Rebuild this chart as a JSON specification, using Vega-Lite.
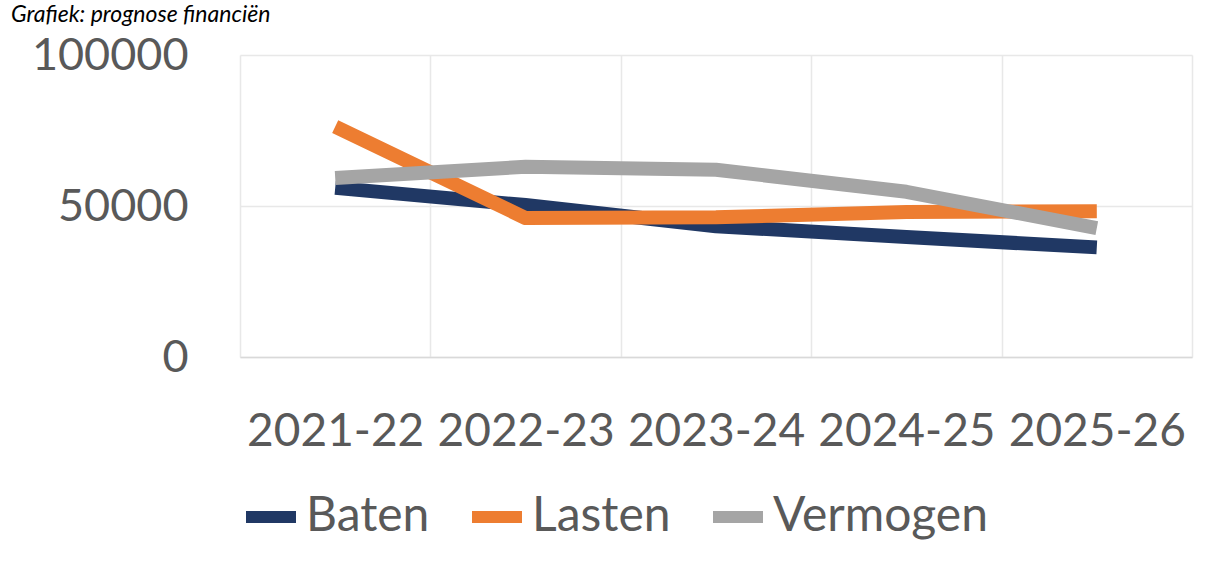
{
  "$schema": "https://vega.github.io/schema/vega-lite/v6.json",
  "width": 952,
  "height": 302,
  "autosize": {"type": "none"},
  "padding": {"left": 240, "top": 55, "right": 17, "bottom": 207},
  "background": "white",
  "title": {
    "text": "Grafiek: prognose financiën",
    "orient": "top",
    "anchor": "start",
    "frame": "group",
    "font": "Lato",
    "fontStyle": "italic",
    "fontWeight": "normal",
    "fontSize": 23,
    "color": "#000000",
    "baseline": "bottom",
    "offset": -17,
    "dx": -229
  },
  "data": {
    "values": [
      {"jaar": "2021-22", "reeks": "Baten", "waarde": 56000},
      {"jaar": "2022-23", "reeks": "Baten", "waarde": 50300},
      {"jaar": "2023-24", "reeks": "Baten", "waarde": 43300},
      {"jaar": "2024-25", "reeks": "Baten", "waarde": 39700},
      {"jaar": "2025-26", "reeks": "Baten", "waarde": 36300},
      {"jaar": "2021-22", "reeks": "Lasten", "waarde": 76300},
      {"jaar": "2022-23", "reeks": "Lasten", "waarde": 46000},
      {"jaar": "2023-24", "reeks": "Lasten", "waarde": 46300},
      {"jaar": "2024-25", "reeks": "Lasten", "waarde": 48000},
      {"jaar": "2025-26", "reeks": "Lasten", "waarde": 48300},
      {"jaar": "2021-22", "reeks": "Vermogen", "waarde": 59300},
      {"jaar": "2022-23", "reeks": "Vermogen", "waarde": 63000},
      {"jaar": "2023-24", "reeks": "Vermogen", "waarde": 62000},
      {"jaar": "2024-25", "reeks": "Vermogen", "waarde": 54700},
      {"jaar": "2025-26", "reeks": "Vermogen", "waarde": 42700}
    ]
  },
  "mark": {"type": "line", "strokeWidth": 14, "strokeCap": "butt", "strokeJoin": "round"},
  "encoding": {
    "x": {
      "field": "jaar",
      "type": "nominal",
      "sort": null,
      "scale": {"type": "band", "paddingInner": 0, "paddingOuter": 0},
      "axis": {
        "title": null,
        "labelAngle": 0,
        "labelFont": "Lato",
        "labelFontSize": 46,
        "labelColor": "#595959",
        "labelPadding": 52,
        "ticks": false,
        "domain": true,
        "domainColor": "#D9D9D9",
        "domainWidth": 1.5,
        "grid": true,
        "gridColor": "#E8E8E8",
        "gridWidth": 1.5,
        "tickBand": "extent"
      }
    },
    "y": {
      "field": "waarde",
      "type": "quantitative",
      "scale": {"domain": [0, 100000], "nice": false},
      "axis": {
        "title": null,
        "values": [0, 50000, 100000],
        "format": "d",
        "labelFont": "Lato",
        "labelFontSize": 45,
        "labelColor": "#595959",
        "labelPadding": 52,
        "ticks": false,
        "domain": false,
        "grid": true,
        "gridColor": "#E8E8E8",
        "gridWidth": 1.5
      }
    },
    "color": {
      "field": "reeks",
      "type": "nominal",
      "scale": {"domain": ["Baten", "Lasten", "Vermogen"], "range": ["#203864", "#ED7D31", "#A5A5A5"]},
      "legend": {
        "title": null,
        "orient": "bottom",
        "direction": "horizontal",
        "offset": 32,
        "symbolType": "stroke",
        "symbolSize": 2500,
        "symbolStrokeWidth": 12,
        "labelFont": "Lato",
        "labelFontSize": 48,
        "labelColor": "#595959",
        "labelOffset": 4,
        "columnPadding": 18,
        "labelLimit": 400
      }
    }
  },
  "config": {"view": {"stroke": null}}
}
